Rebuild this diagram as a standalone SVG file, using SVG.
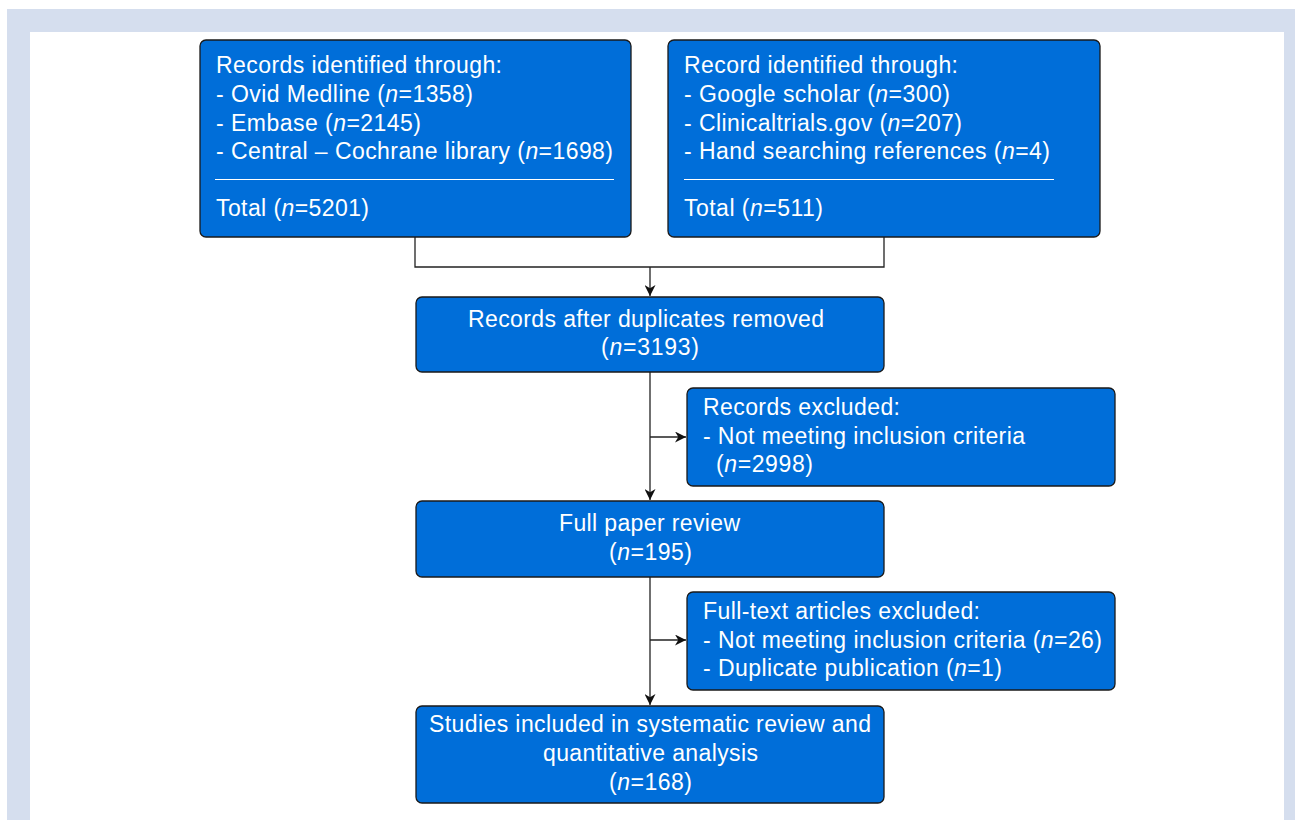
<svg xmlns="http://www.w3.org/2000/svg" width="1295" height="820" viewBox="0 0 1295 820">
<style>
.box{fill:#006ed9;stroke:#1a1a1a;stroke-width:1.3}
.t{font-family:"Liberation Sans",Arial,sans-serif;font-size:23px;fill:#ffffff}
.c{text-anchor:middle}
.sep{stroke:#ffffff;stroke-width:1}
.ln{fill:none;stroke:#222;stroke-width:1.3}
</style>
<defs>
<marker id="ah" viewBox="0 0 10 10" refX="10" refY="5" markerWidth="11" markerHeight="11" markerUnits="userSpaceOnUse" orient="auto">
<path d="M0,0 L10,5 L0,10 L3,5 z" fill="#111"/>
</marker>
</defs>
<rect x="0" y="0" width="1295" height="820" fill="#ffffff"/>
<rect x="7" y="9" width="1288" height="811" fill="#d5deee"/>
<rect x="30" y="32" width="1254" height="788" fill="#ffffff"/>

<g id="connectors">
<path class="ln" d="M415,237 V267 H884 V237"/>
<path class="ln" d="M650,267 V296" marker-end="url(#ah)"/>
<path class="ln" d="M650,372 V500" marker-end="url(#ah)"/>
<path class="ln" d="M650,437 H686" marker-end="url(#ah)"/>
<path class="ln" d="M650,577 V705" marker-end="url(#ah)"/>
<path class="ln" d="M650,640 H686" marker-end="url(#ah)"/>
</g>

<g id="n1">
<rect class="box" x="200" y="40" width="431" height="197" rx="6"/>
<text class="t" x="216" y="73" textLength="286">Records identified through:</text>
<text class="t" x="216" y="102" textLength="257">- Ovid Medline (<tspan font-style="italic">n</tspan>=1358)</text>
<text class="t" x="216" y="131" textLength="205">- Embase (<tspan font-style="italic">n</tspan>=2145)</text>
<text class="t" x="216" y="159" textLength="397">- Central – Cochrane library (<tspan font-style="italic">n</tspan>=1698)</text>
<line class="sep" x1="215" y1="179.5" x2="614" y2="179.5"/>
<text class="t" x="216" y="216" textLength="153">Total (<tspan font-style="italic">n</tspan>=5201)</text>
</g>

<g id="n2">
<rect class="box" x="668" y="40" width="432" height="197" rx="6"/>
<text class="t" x="684" y="73" textLength="274">Record identified through:</text>
<text class="t" x="684" y="102" textLength="266">- Google scholar (<tspan font-style="italic">n</tspan>=300)</text>
<text class="t" x="684" y="131" textLength="278">- Clinicaltrials.gov (<tspan font-style="italic">n</tspan>=207)</text>
<text class="t" x="684" y="159" textLength="366">- Hand searching references (<tspan font-style="italic">n</tspan>=4)</text>
<line class="sep" x1="684" y1="179.5" x2="1054" y2="179.5"/>
<text class="t" x="684" y="216" textLength="139">Total (<tspan font-style="italic">n</tspan>=511)</text>
</g>

<g id="n3">
<rect class="box" x="416" y="297" width="468" height="75" rx="6"/>
<text class="t c" x="646" y="327" textLength="356">Records after duplicates removed</text>
<text class="t c" x="650" y="355" textLength="98">(<tspan font-style="italic">n</tspan>=3193)</text>
</g>

<g id="n4">
<rect class="box" x="687" y="388" width="428" height="98" rx="6"/>
<text class="t" x="703" y="415" textLength="197">Records excluded:</text>
<text class="t" x="703" y="444" textLength="322">- Not meeting inclusion criteria</text>
<text class="t" x="716" y="472" textLength="97">(<tspan font-style="italic">n</tspan>=2998)</text>
</g>

<g id="n5">
<rect class="box" x="416" y="501" width="468" height="76" rx="6"/>
<text class="t c" x="649.5" y="531" textLength="181">Full paper review</text>
<text class="t c" x="650.5" y="560" textLength="83">(<tspan font-style="italic">n</tspan>=195)</text>
</g>

<g id="n6">
<rect class="box" x="687" y="592" width="428" height="98" rx="6"/>
<text class="t" x="703" y="619" textLength="277">Full-text articles excluded:</text>
<text class="t" x="703" y="648" textLength="399">- Not meeting inclusion criteria (<tspan font-style="italic">n</tspan>=26)</text>
<text class="t" x="703" y="676" textLength="299">- Duplicate publication (<tspan font-style="italic">n</tspan>=1)</text>
</g>

<g id="n7">
<rect class="box" x="416" y="706" width="468" height="97" rx="6"/>
<text class="t c" x="650" y="732" textLength="442">Studies included in systematic review and</text>
<text class="t c" x="650.5" y="761" textLength="215">quantitative analysis</text>
<text class="t c" x="650.5" y="790" textLength="83">(<tspan font-style="italic">n</tspan>=168)</text>
</g>
</svg>
